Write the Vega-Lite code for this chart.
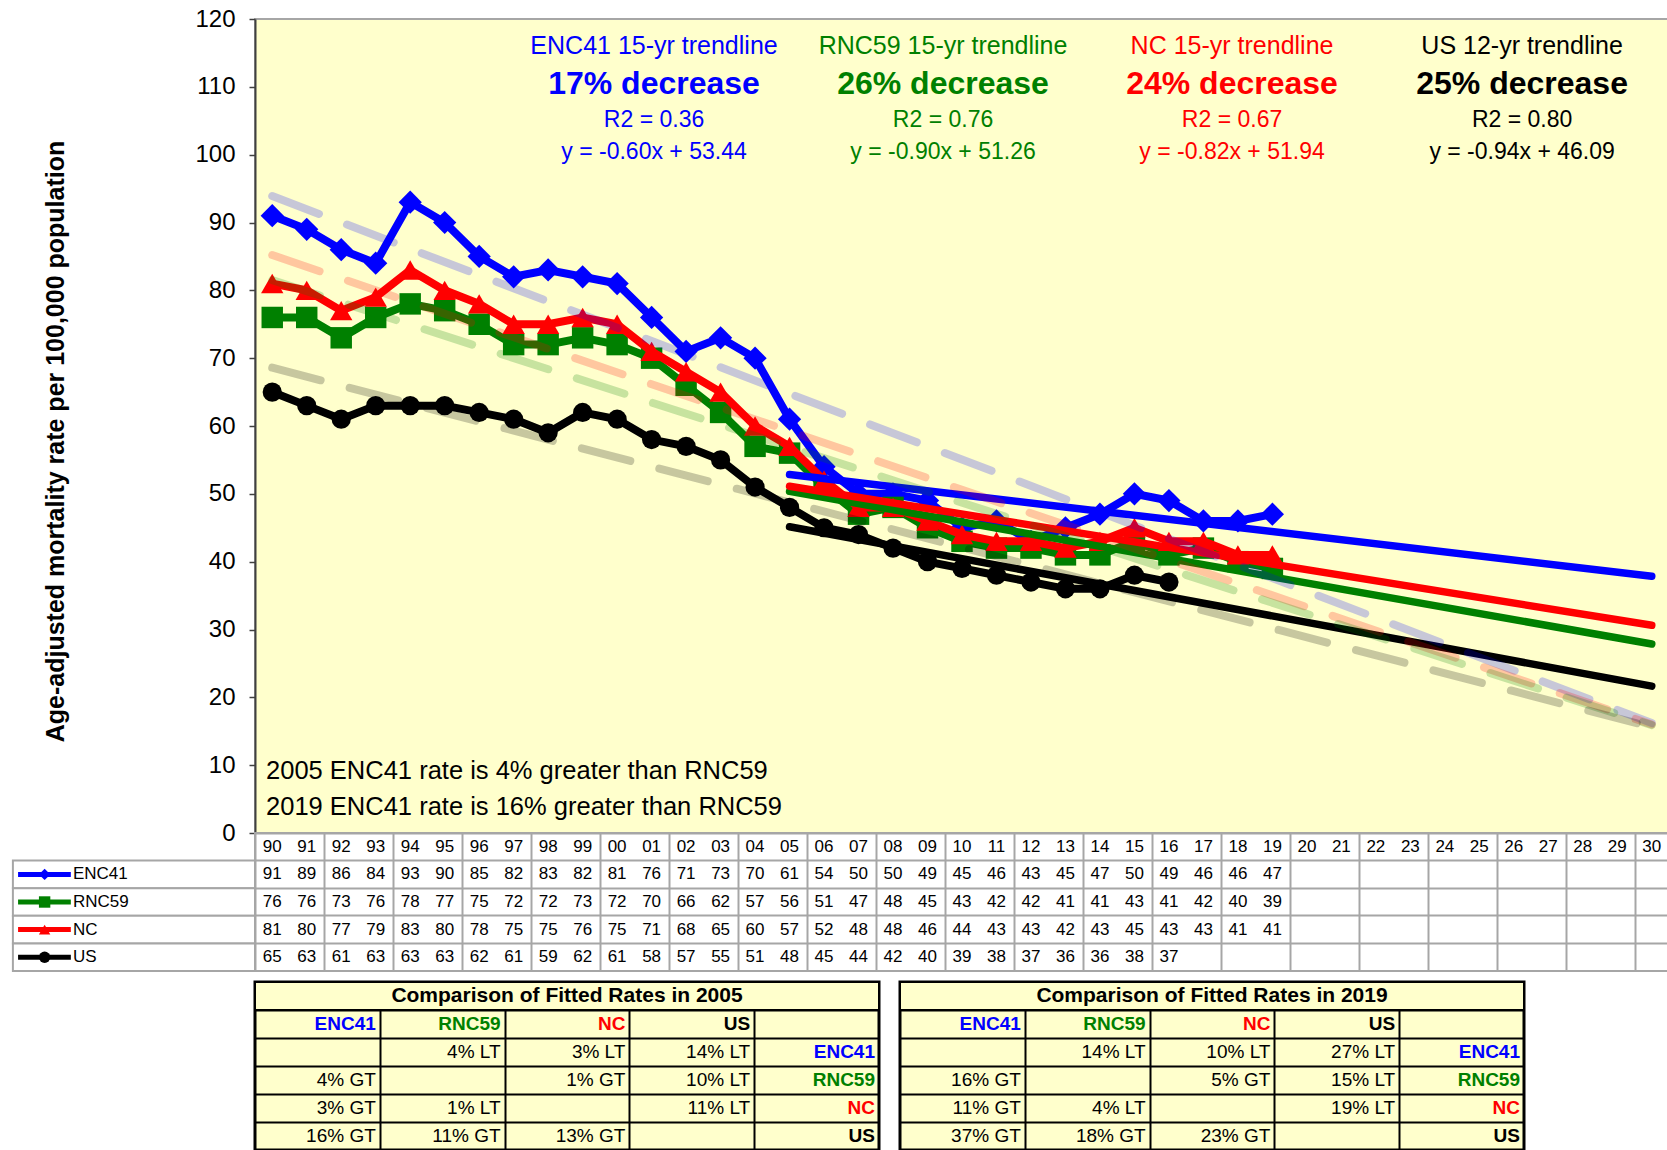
{
  "$schema": "https://vega.github.io/schema/vega-lite/v6.json",
  "background": "white",
  "padding": {"left": 10, "top": 6, "right": 0, "bottom": 0},
  "config": {"font": "Liberation Sans", "axis": {"labelFont": "Liberation Sans", "titleFont": "Liberation Sans"}},
  "bounds": "flush",
  "spacing": 0,
  "datasets": {
    "rates": [
      {"year":1990,"ENC41":91,"RNC59":76,"NC":81,"US":65},
      {"year":1991,"ENC41":89,"RNC59":76,"NC":80,"US":63},
      {"year":1992,"ENC41":86,"RNC59":73,"NC":77,"US":61},
      {"year":1993,"ENC41":84,"RNC59":76,"NC":79,"US":63},
      {"year":1994,"ENC41":93,"RNC59":78,"NC":83,"US":63},
      {"year":1995,"ENC41":90,"RNC59":77,"NC":80,"US":63},
      {"year":1996,"ENC41":85,"RNC59":75,"NC":78,"US":62},
      {"year":1997,"ENC41":82,"RNC59":72,"NC":75,"US":61},
      {"year":1998,"ENC41":83,"RNC59":72,"NC":75,"US":59},
      {"year":1999,"ENC41":82,"RNC59":73,"NC":76,"US":62},
      {"year":2000,"ENC41":81,"RNC59":72,"NC":75,"US":61},
      {"year":2001,"ENC41":76,"RNC59":70,"NC":71,"US":58},
      {"year":2002,"ENC41":71,"RNC59":66,"NC":68,"US":57},
      {"year":2003,"ENC41":73,"RNC59":62,"NC":65,"US":55},
      {"year":2004,"ENC41":70,"RNC59":57,"NC":60,"US":51},
      {"year":2005,"ENC41":61,"RNC59":56,"NC":57,"US":48},
      {"year":2006,"ENC41":54,"RNC59":51,"NC":52,"US":45},
      {"year":2007,"ENC41":50,"RNC59":47,"NC":48,"US":44},
      {"year":2008,"ENC41":50,"RNC59":48,"NC":48,"US":42},
      {"year":2009,"ENC41":49,"RNC59":45,"NC":46,"US":40},
      {"year":2010,"ENC41":45,"RNC59":43,"NC":44,"US":39},
      {"year":2011,"ENC41":46,"RNC59":42,"NC":43,"US":38},
      {"year":2012,"ENC41":43,"RNC59":42,"NC":43,"US":37},
      {"year":2013,"ENC41":45,"RNC59":41,"NC":42,"US":36},
      {"year":2014,"ENC41":47,"RNC59":41,"NC":43,"US":36},
      {"year":2015,"ENC41":50,"RNC59":43,"NC":45,"US":38},
      {"year":2016,"ENC41":49,"RNC59":41,"NC":43,"US":37},
      {"year":2017,"ENC41":46,"RNC59":42,"NC":43,"US":null},
      {"year":2018,"ENC41":46,"RNC59":40,"NC":41,"US":null},
      {"year":2019,"ENC41":47,"RNC59":39,"NC":41,"US":null}
    ],
    "trend": [
      {"s":"ENC41","year":2005,"v":52.84},{"s":"ENC41","year":2030,"v":37.84},
      {"s":"RNC59","year":2005,"v":50.36},{"s":"RNC59","year":2030,"v":27.86},
      {"s":"US","year":2005,"v":45.15},{"s":"US","year":2030,"v":21.65},
      {"s":"NC","year":2005,"v":51.12},{"s":"NC","year":2030,"v":30.62}
    ],
    "dash": [
      {"s":"ENC41","year":1990,"v":93.9},{"s":"ENC41","year":2030,"v":16.2},
      {"s":"NC","year":1990,"v":85.2},{"s":"NC","year":2030,"v":16.0},
      {"s":"RNC59","year":1990,"v":81.5},{"s":"RNC59","year":2030,"v":15.9},
      {"s":"US","year":1990,"v":68.6},{"s":"US","year":2030,"v":15.6}
    ],
    "years": [
      {"year":1990,"yy":"90"},{"year":1991,"yy":"91"},{"year":1992,"yy":"92"},{"year":1993,"yy":"93"},{"year":1994,"yy":"94"},
      {"year":1995,"yy":"95"},{"year":1996,"yy":"96"},{"year":1997,"yy":"97"},{"year":1998,"yy":"98"},{"year":1999,"yy":"99"},
      {"year":2000,"yy":"00"},{"year":2001,"yy":"01"},{"year":2002,"yy":"02"},{"year":2003,"yy":"03"},{"year":2004,"yy":"04"},
      {"year":2005,"yy":"05"},{"year":2006,"yy":"06"},{"year":2007,"yy":"07"},{"year":2008,"yy":"08"},{"year":2009,"yy":"09"},
      {"year":2010,"yy":"10"},{"year":2011,"yy":"11"},{"year":2012,"yy":"12"},{"year":2013,"yy":"13"},{"year":2014,"yy":"14"},
      {"year":2015,"yy":"15"},{"year":2016,"yy":"16"},{"year":2017,"yy":"17"},{"year":2018,"yy":"18"},{"year":2019,"yy":"19"},
      {"year":2020,"yy":"20"},{"year":2021,"yy":"21"},{"year":2022,"yy":"22"},{"year":2023,"yy":"23"},{"year":2024,"yy":"24"},
      {"year":2025,"yy":"25"},{"year":2026,"yy":"26"},{"year":2027,"yy":"27"},{"year":2028,"yy":"28"},{"year":2029,"yy":"29"},
      {"year":2030,"yy":"30"}
    ],
    "series": [{"s":"ENC41"},{"s":"RNC59"},{"s":"NC"},{"s":"US"}],
    "cmp": [
      {"tb":"2005","row":"head","col":1,"s":"ENC41"},{"tb":"2005","row":"head","col":2,"s":"RNC59"},{"tb":"2005","row":"head","col":3,"s":"NC"},{"tb":"2005","row":"head","col":4,"s":"US"},
      {"tb":"2005","row":"ENC41","col":2,"t":"4% LT"},{"tb":"2005","row":"ENC41","col":3,"t":"3% LT"},{"tb":"2005","row":"ENC41","col":4,"t":"14% LT"},{"tb":"2005","row":"ENC41","col":5,"s":"ENC41"},
      {"tb":"2005","row":"RNC59","col":1,"t":"4% GT"},{"tb":"2005","row":"RNC59","col":3,"t":"1% GT"},{"tb":"2005","row":"RNC59","col":4,"t":"10% LT"},{"tb":"2005","row":"RNC59","col":5,"s":"RNC59"},
      {"tb":"2005","row":"NC","col":1,"t":"3% GT"},{"tb":"2005","row":"NC","col":2,"t":"1% LT"},{"tb":"2005","row":"NC","col":4,"t":"11% LT"},{"tb":"2005","row":"NC","col":5,"s":"NC"},
      {"tb":"2005","row":"US","col":1,"t":"16% GT"},{"tb":"2005","row":"US","col":2,"t":"11% GT"},{"tb":"2005","row":"US","col":3,"t":"13% GT"},{"tb":"2005","row":"US","col":5,"s":"US"},
      {"tb":"2019","row":"head","col":1,"s":"ENC41"},{"tb":"2019","row":"head","col":2,"s":"RNC59"},{"tb":"2019","row":"head","col":3,"s":"NC"},{"tb":"2019","row":"head","col":4,"s":"US"},
      {"tb":"2019","row":"ENC41","col":2,"t":"14% LT"},{"tb":"2019","row":"ENC41","col":3,"t":"10% LT"},{"tb":"2019","row":"ENC41","col":4,"t":"27% LT"},{"tb":"2019","row":"ENC41","col":5,"s":"ENC41"},
      {"tb":"2019","row":"RNC59","col":1,"t":"16% GT"},{"tb":"2019","row":"RNC59","col":3,"t":"5% GT"},{"tb":"2019","row":"RNC59","col":4,"t":"15% LT"},{"tb":"2019","row":"RNC59","col":5,"s":"RNC59"},
      {"tb":"2019","row":"NC","col":1,"t":"11% GT"},{"tb":"2019","row":"NC","col":2,"t":"4% LT"},{"tb":"2019","row":"NC","col":4,"t":"19% LT"},{"tb":"2019","row":"NC","col":5,"s":"NC"},
      {"tb":"2019","row":"US","col":1,"t":"37% GT"},{"tb":"2019","row":"US","col":2,"t":"18% GT"},{"tb":"2019","row":"US","col":3,"t":"23% GT"},{"tb":"2019","row":"US","col":5,"s":"US"}
    ]
  },
  "vconcat": [
    {
      "width": 1414,
      "height": 814,
      "view": {"fill": "#FFFFCC", "stroke": "#A6A6A6", "strokeWidth": 2},
      "layer": [
        {
          "encoding": {
            "x": {"field": "year", "type": "quantitative", "scale": {"domain": [1989.5, 2030.5], "nice": false, "zero": false}, "axis": null},
            "y": {"field": "v", "type": "quantitative", "scale": {"domain": [0, 120], "nice": false, "zero": false},
              "axis": {"values": [0,10,20,30,40,50,60,70,80,90,100,110,120], "grid": false,
                "title": "Age-adjusted mortality rate per 100,000 population", "titleFontSize": 25, "titleFontWeight": "bold", "titleColor": "black",
                "titlePadding": 126, "titleY": 422,
                "labelFontSize": 24, "labelColor": "black", "labelPadding": 14,
                "tickSize": 6, "tickColor": "#404040", "tickWidth": 1.5, "domainColor": "#404040", "domainWidth": 2}},
            "color": {"field": "s", "type": "nominal", "scale": {"domain": ["ENC41","RNC59","NC","US"], "range": ["#0000FF","#008000","#FF0000","#000000"]}, "legend": null}
          },
          "layer": [
            {"data": {"name": "rates"}, "transform": [{"fold": ["ENC41","RNC59","NC","US"], "as": ["s","v"]}, {"filter": "isValid(datum.v) && datum.s === 'ENC41'"}],
              "mark": {"type": "line", "strokeWidth": 8, "point": {"shape": "diamond", "size": 540, "filled": true, "opacity": 1}}},
            {"data": {"name": "rates"}, "transform": [{"fold": ["ENC41","RNC59","NC","US"], "as": ["s","v"]}, {"filter": "isValid(datum.v) && datum.s === 'US'"}],
              "mark": {"type": "line", "strokeWidth": 8, "point": {"shape": "circle", "size": 370, "filled": true, "opacity": 1}}},
            {"data": {"name": "rates"}, "transform": [{"fold": ["ENC41","RNC59","NC","US"], "as": ["s","v"]}, {"filter": "isValid(datum.v) && datum.s === 'RNC59'"}],
              "mark": {"type": "line", "strokeWidth": 8, "point": {"shape": "square", "size": 460, "filled": true, "opacity": 1}}},
            {"data": {"name": "rates"}, "transform": [{"fold": ["ENC41","RNC59","NC","US"], "as": ["s","v"]}, {"filter": "isValid(datum.v) && datum.s === 'NC'"}],
              "mark": {"type": "line", "strokeWidth": 8, "point": {"shape": "triangle-up", "size": 500, "filled": true, "opacity": 1}}},
            {"data": {"name": "trend"}, "mark": {"type": "line", "strokeWidth": 7.5, "strokeCap": "round"}, "encoding": {"detail": {"field": "s"}}},
            {"data": {"name": "dash"}, "mark": {"type": "line", "strokeWidth": 8, "strokeDash": [50, 30], "strokeCap": "round", "opacity": 0.22}, "encoding": {"detail": {"field": "s"}}}
          ]
        },
        {
          "encoding": {
            "x": {"type": "quantitative", "scale": {"domain": [1989.5, 2030.5], "nice": false, "zero": false}},
            "y": {"type": "quantitative", "scale": {"domain": [0, 120], "nice": false, "zero": false}},
            "color": {"field": "s", "type": "nominal", "scale": {"domain": ["ENC41","RNC59","NC","US"], "range": ["#0000FF","#008000","#FF0000","#000000"]}, "legend": null}
          },
          "layer": [
            {"data": {"values": [{"s":"ENC41","t":"ENC41 15-yr trendline"}]}, "mark": {"type": "text", "fontSize": 25}, "encoding": {"x": {"datum": 2001.07}, "y": {"datum": 116.0}, "text": {"field": "t"}}},
            {"data": {"values": [{"s":"ENC41","t":"17% decrease"}]}, "mark": {"type": "text", "fontSize": 32, "fontWeight": "bold"}, "encoding": {"x": {"datum": 2001.07}, "y": {"datum": 110.4}, "text": {"field": "t"}}},
            {"data": {"values": [{"s":"ENC41","t":"R2 = 0.36"}]}, "mark": {"type": "text", "fontSize": 23}, "encoding": {"x": {"datum": 2001.07}, "y": {"datum": 105.1}, "text": {"field": "t"}}},
            {"data": {"values": [{"s":"ENC41","t":"y = -0.60x + 53.44"}]}, "mark": {"type": "text", "fontSize": 23}, "encoding": {"x": {"datum": 2001.07}, "y": {"datum": 100.4}, "text": {"field": "t"}}},

            {"data": {"values": [{"s":"RNC59","t":"RNC59 15-yr trendline"}]}, "mark": {"type": "text", "fontSize": 25}, "encoding": {"x": {"datum": 2009.45}, "y": {"datum": 116.0}, "text": {"field": "t"}}},
            {"data": {"values": [{"s":"RNC59","t":"26% decrease"}]}, "mark": {"type": "text", "fontSize": 32, "fontWeight": "bold"}, "encoding": {"x": {"datum": 2009.45}, "y": {"datum": 110.4}, "text": {"field": "t"}}},
            {"data": {"values": [{"s":"RNC59","t":"R2 = 0.76"}]}, "mark": {"type": "text", "fontSize": 23}, "encoding": {"x": {"datum": 2009.45}, "y": {"datum": 105.1}, "text": {"field": "t"}}},
            {"data": {"values": [{"s":"RNC59","t":"y = -0.90x + 51.26"}]}, "mark": {"type": "text", "fontSize": 23}, "encoding": {"x": {"datum": 2009.45}, "y": {"datum": 100.4}, "text": {"field": "t"}}},

            {"data": {"values": [{"s":"NC","t":"NC 15-yr trendline"}]}, "mark": {"type": "text", "fontSize": 25}, "encoding": {"x": {"datum": 2017.83}, "y": {"datum": 116.0}, "text": {"field": "t"}}},
            {"data": {"values": [{"s":"NC","t":"24% decrease"}]}, "mark": {"type": "text", "fontSize": 32, "fontWeight": "bold"}, "encoding": {"x": {"datum": 2017.83}, "y": {"datum": 110.4}, "text": {"field": "t"}}},
            {"data": {"values": [{"s":"NC","t":"R2 = 0.67"}]}, "mark": {"type": "text", "fontSize": 23}, "encoding": {"x": {"datum": 2017.83}, "y": {"datum": 105.1}, "text": {"field": "t"}}},
            {"data": {"values": [{"s":"NC","t":"y = -0.82x + 51.94"}]}, "mark": {"type": "text", "fontSize": 23}, "encoding": {"x": {"datum": 2017.83}, "y": {"datum": 100.4}, "text": {"field": "t"}}},

            {"data": {"values": [{"s":"US","t":"US 12-yr trendline"}]}, "mark": {"type": "text", "fontSize": 25}, "encoding": {"x": {"datum": 2026.24}, "y": {"datum": 116.0}, "text": {"field": "t"}}},
            {"data": {"values": [{"s":"US","t":"25% decrease"}]}, "mark": {"type": "text", "fontSize": 32, "fontWeight": "bold"}, "encoding": {"x": {"datum": 2026.24}, "y": {"datum": 110.4}, "text": {"field": "t"}}},
            {"data": {"values": [{"s":"US","t":"R2 = 0.80"}]}, "mark": {"type": "text", "fontSize": 23}, "encoding": {"x": {"datum": 2026.24}, "y": {"datum": 105.1}, "text": {"field": "t"}}},
            {"data": {"values": [{"s":"US","t":"y = -0.94x + 46.09"}]}, "mark": {"type": "text", "fontSize": 23}, "encoding": {"x": {"datum": 2026.24}, "y": {"datum": 100.4}, "text": {"field": "t"}}},

            {"data": {"values": [{"t":"2005 ENC41 rate is 4% greater than RNC59"}]}, "mark": {"type": "text", "fontSize": 25.5, "align": "left"}, "encoding": {"x": {"datum": 1989.82}, "y": {"datum": 9.1}, "text": {"field": "t"}, "color": {"value": "black"}}},
            {"data": {"values": [{"t":"2019 ENC41 rate is 16% greater than RNC59"}]}, "mark": {"type": "text", "fontSize": 25.5, "align": "left"}, "encoding": {"x": {"datum": 1989.82}, "y": {"datum": 3.9}, "text": {"field": "t"}, "color": {"value": "black"}}}
          ]
        }
      ]
    },
    {
      "bounds": "flush",
      "spacing": 11,
      "vconcat": [
        {
          "width": 1414,
          "height": 138,
          "view": {"fill": "white", "stroke": "#A6A6A6", "strokeWidth": 2},
          "layer": [
            {
              "data": {"name": "rates"},
              "transform": [{"fold": ["ENC41","RNC59","NC","US"], "as": ["s","v"]}, {"filter": "isValid(datum.v)"}],
              "mark": {"type": "text", "fontSize": 17, "color": "black"},
              "encoding": {
                "x": {"field": "year", "type": "quantitative", "scale": {"domain": [1989.5, 2030.5], "nice": false, "zero": false},
                  "axis": {"values": [1989.5,1990.5,1991.5,1992.5,1993.5,1994.5,1995.5,1996.5,1997.5,1998.5,1999.5,2000.5,2001.5,2002.5,2003.5,2004.5,2005.5,2006.5,2007.5,2008.5,2009.5,2010.5,2011.5,2012.5,2013.5,2014.5,2015.5,2016.5,2017.5,2018.5,2019.5,2020.5,2021.5,2022.5,2023.5,2024.5,2025.5,2026.5,2027.5,2028.5,2029.5,2030.5],
                    "grid": true, "gridColor": "#A6A6A6", "gridWidth": 2, "labels": false, "ticks": false, "domain": false, "title": null}},
                "y": {"field": "s", "type": "nominal", "scale": {"domain": ["hdr","ENC41","RNC59","NC","US"], "paddingInner": 0, "paddingOuter": 0},
                  "axis": {"grid": true, "bandPosition": 0, "gridColor": "#A6A6A6", "gridWidth": 2, "labels": false, "ticks": false, "domain": false, "title": null}},
                "text": {"field": "v", "type": "quantitative", "format": ".0f"}
              }
            },
            {
              "data": {"name": "years"},
              "mark": {"type": "text", "fontSize": 17, "color": "black"},
              "encoding": {
                "x": {"field": "year", "type": "quantitative", "scale": {"domain": [1989.5, 2030.5], "nice": false, "zero": false}},
                "y": {"datum": "hdr", "type": "nominal", "scale": {"domain": ["hdr","ENC41","RNC59","NC","US"], "paddingInner": 0, "paddingOuter": 0}},
                "text": {"field": "yy"}
              }
            },
            {
              "data": {"name": "series"},
              "encoding": {
                "x": {"type": "quantitative", "scale": {"domain": [1989.5, 2030.5], "nice": false, "zero": false}},
                "y": {"field": "s", "type": "nominal", "scale": {"domain": ["hdr","ENC41","RNC59","NC","US"], "paddingInner": 0, "paddingOuter": 0}}
              },
              "layer": [
                {"mark": {"type": "rect", "fill": "white", "stroke": "#A6A6A6", "strokeWidth": 2},
                  "encoding": {"x": {"datum": 1982.48}, "x2": {"datum": 1989.5}}},
                {"mark": {"type": "rule", "strokeWidth": 5},
                  "encoding": {"x": {"datum": 1982.63}, "x2": {"datum": 1984.16},
                    "color": {"field": "s", "type": "nominal", "scale": {"domain": ["ENC41","RNC59","NC","US"], "range": ["#0000FF","#008000","#FF0000","#000000"]}, "legend": null}}},
                {"mark": {"type": "point", "filled": true, "size": 130, "opacity": 1},
                  "encoding": {"x": {"datum": 1983.4},
                    "color": {"field": "s", "type": "nominal", "scale": {"domain": ["ENC41","RNC59","NC","US"], "range": ["#0000FF","#008000","#FF0000","#000000"]}, "legend": null},
                    "shape": {"field": "s", "type": "nominal", "scale": {"domain": ["ENC41","RNC59","NC","US"], "range": ["diamond","square","triangle-up","circle"]}, "legend": null}}},
                {"mark": {"type": "text", "align": "left", "fontSize": 17, "color": "black"},
                  "encoding": {"x": {"datum": 1984.22}, "text": {"field": "s"}}}
              ]
            }
          ]
        },
        {
          "bounds": "flush",
          "spacing": 21,
          "hconcat": [
            {
              "width": 624,
              "height": 168,
              "view": {"fill": "#FFFFCC", "stroke": "black", "strokeWidth": 3},
              "layer": [
                {
                  "data": {"name": "cmp"},
                  "encoding": {
                    "x": {"field": "col", "type": "quantitative", "scale": {"domain": [0, 5], "nice": false, "zero": false},
                      "axis": {"values": [1,2,3,4], "grid": true, "gridColor": "black", "gridWidth": 2, "labels": false, "ticks": false, "domain": false, "title": null}},
                    "y": {"field": "row", "type": "nominal", "scale": {"domain": ["title","head","ENC41","RNC59","NC","US"], "paddingInner": 0, "paddingOuter": 0},
                      "axis": {"grid": true, "bandPosition": 0, "gridColor": "black", "gridWidth": 2, "labels": false, "ticks": false, "domain": false, "title": null}}
                  },
                  "layer": [
                    {"transform": [{"filter": "datum.tb === '2005' && isValid(datum.s)"}],
                      "mark": {"type": "text", "align": "right", "dx": -4, "fontSize": 19, "fontWeight": "bold"},
                      "encoding": {"text": {"field": "s"},
                        "color": {"field": "s", "type": "nominal", "scale": {"domain": ["ENC41","RNC59","NC","US"], "range": ["#0000FF","#008000","#FF0000","#000000"]}, "legend": null}}},
                    {"transform": [{"filter": "datum.tb === '2005' && isValid(datum.t)"}],
                      "mark": {"type": "text", "align": "right", "dx": -4, "fontSize": 19, "color": "black"},
                      "encoding": {"text": {"field": "t"}}}
                  ]
                },
                {
                  "data": {"values": [{"title": "Comparison of Fitted Rates in 2005"}]},
                  "encoding": {
                    "x": {"type": "quantitative", "scale": {"domain": [0, 5], "nice": false, "zero": false}},
                    "y": {"type": "nominal", "scale": {"domain": ["title","head","ENC41","RNC59","NC","US"], "paddingInner": 0, "paddingOuter": 0}}
                  },
                  "layer": [
                    {"mark": {"type": "rect", "fill": "#FFFFCC", "stroke": "black", "strokeWidth": 2},
                      "encoding": {"x": {"datum": 0}, "x2": {"datum": 5}, "y": {"datum": "title"}}},
                    {"mark": {"type": "text", "fontSize": 21, "fontWeight": "bold", "color": "black"},
                      "encoding": {"x": {"datum": 2.5}, "y": {"datum": "title"}, "text": {"field": "title"}}}
                  ]
                }
              ]
            },
            {
              "width": 624,
              "height": 168,
              "view": {"fill": "#FFFFCC", "stroke": "black", "strokeWidth": 3},
              "layer": [
                {
                  "data": {"name": "cmp"},
                  "encoding": {
                    "x": {"field": "col", "type": "quantitative", "scale": {"domain": [0, 5], "nice": false, "zero": false},
                      "axis": {"values": [1,2,3,4], "grid": true, "gridColor": "black", "gridWidth": 2, "labels": false, "ticks": false, "domain": false, "title": null}},
                    "y": {"field": "row", "type": "nominal", "scale": {"domain": ["title","head","ENC41","RNC59","NC","US"], "paddingInner": 0, "paddingOuter": 0},
                      "axis": {"grid": true, "bandPosition": 0, "gridColor": "black", "gridWidth": 2, "labels": false, "ticks": false, "domain": false, "title": null}}
                  },
                  "layer": [
                    {"transform": [{"filter": "datum.tb === '2019' && isValid(datum.s)"}],
                      "mark": {"type": "text", "align": "right", "dx": -4, "fontSize": 19, "fontWeight": "bold"},
                      "encoding": {"text": {"field": "s"},
                        "color": {"field": "s", "type": "nominal", "scale": {"domain": ["ENC41","RNC59","NC","US"], "range": ["#0000FF","#008000","#FF0000","#000000"]}, "legend": null}}},
                    {"transform": [{"filter": "datum.tb === '2019' && isValid(datum.t)"}],
                      "mark": {"type": "text", "align": "right", "dx": -4, "fontSize": 19, "color": "black"},
                      "encoding": {"text": {"field": "t"}}}
                  ]
                },
                {
                  "data": {"values": [{"title": "Comparison of Fitted Rates in 2019"}]},
                  "encoding": {
                    "x": {"type": "quantitative", "scale": {"domain": [0, 5], "nice": false, "zero": false}},
                    "y": {"type": "nominal", "scale": {"domain": ["title","head","ENC41","RNC59","NC","US"], "paddingInner": 0, "paddingOuter": 0}}
                  },
                  "layer": [
                    {"mark": {"type": "rect", "fill": "#FFFFCC", "stroke": "black", "strokeWidth": 2},
                      "encoding": {"x": {"datum": 0}, "x2": {"datum": 5}, "y": {"datum": "title"}}},
                    {"mark": {"type": "text", "fontSize": 21, "fontWeight": "bold", "color": "black"},
                      "encoding": {"x": {"datum": 2.5}, "y": {"datum": "title"}, "text": {"field": "title"}}}
                  ]
                }
              ]
            }
          ]
        }
      ]
    }
  ]
}
